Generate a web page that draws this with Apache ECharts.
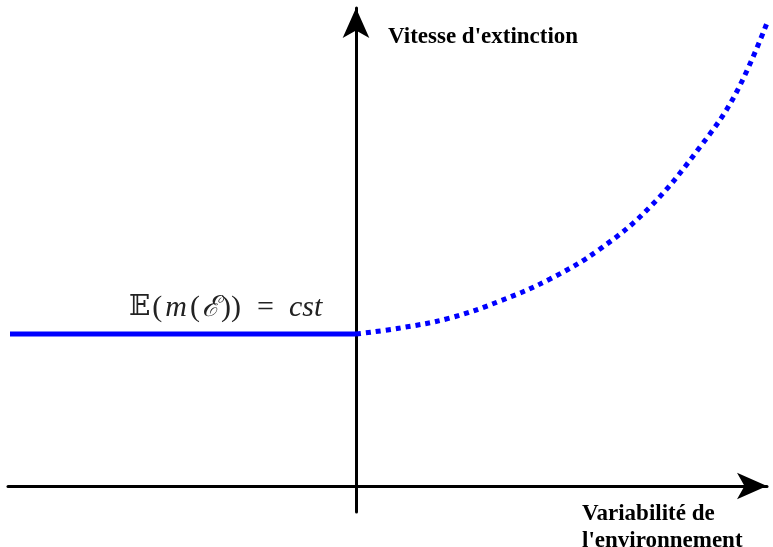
<!DOCTYPE html>
<html><head><meta charset="utf-8">
<script src="https://cdn.jsdelivr.net/npm/echarts@6/dist/echarts.min.js"></script>
<style>html,body{margin:0;padding:0;background:#fff}#c{width:773px;height:547px}</style>
</head><body><div id="c"></div>
<script>
// Constant regime (left of the vertical axis)
const constX = [-3.46, 0];
const constY = [1.52, 1.52];
// Increasing regime (right of the vertical axis)
const curveX = [0, 0.44, 0.94, 1.44, 1.94, 2.44, 2.94, 3.44, 3.79, 4.11];
const curveY = [1.52, 1.58, 1.68, 1.85, 2.07, 2.37, 2.79, 3.39, 3.91, 4.63];
const yAxisLabel = "Vitesse d'extinction";
const xAxisLabel = "Variabilité de\nl'environnement";

const chart = echarts.init(document.getElementById('c'));
const axisCommon = {
  axisLine: { onZero: true, symbol: ['none', 'arrow'], symbolSize: [20, 30], lineStyle: { color: '#000', width: 3 } },
  axisTick: { show: false }, axisLabel: { show: false }, splitLine: { show: false }
};
chart.setOption({
  animation: false,
  grid: { left: 8, right: 6, top: 8, bottom: 35 },
  xAxis: Object.assign({ type: 'value', min: -3.48, max: 4.11 }, axisCommon),
  yAxis: Object.assign({ type: 'value', min: -0.26, max: 4.78 }, axisCommon),
  series: [
    { type: 'line', data: constX.map((x, i) => [x, constY[i]]), symbol: 'none', clip: false,
      lineStyle: { color: '#0000ff', width: 5 } },
    { type: 'line', data: curveX.map((x, i) => [x, curveY[i]]), symbol: 'none', smooth: 0.4, clip: false,
      lineStyle: { color: '#0000ff', width: 5, type: [5, 5], cap: 'butt' } }
  ],
  graphic: [
    { type: 'text', left: 388, top: 26, style: { text: yAxisLabel, font: 'bold 23px "Liberation Serif"', fill: '#000' } },
    { type: 'text', left: 582, top: 501, style: { text: xAxisLabel, font: 'bold 23px "Liberation Serif"', fill: '#000', lineHeight: 27 } },
    { type: 'text', left: 129, top: 293, style: {
      text: '{b|𝔼}{r|(}{i|m}{r|(}{s|ℰ}{r|))}{e|=}{i|cst}',
      rich: {
        b: { font: '28px "DejaVu Serif"', fill: '#222' },
        r: { font: '30px "Liberation Serif"', fill: '#222', padding: [0, 2, 0, 2] },
        e: { font: '30px "Liberation Serif"', fill: '#222', padding: [0, 14, 0, 14] },
        i: { font: 'italic 30px "Liberation Serif"', fill: '#222', padding: [0, 1, 0, 1] },
        s: { font: 'italic 29px "DejaVu Serif"', fill: '#222' }
      } } }
  ]
});
</script></body></html>
